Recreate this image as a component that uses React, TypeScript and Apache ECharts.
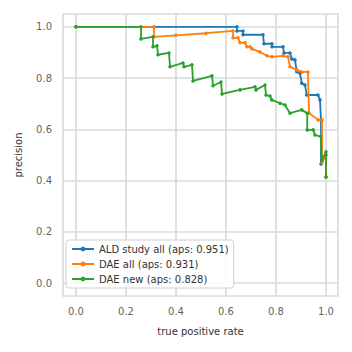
import React, { useEffect, useRef } from "react";
import * as echarts from "echarts";

const xTicks = [0, 0.2, 0.4, 0.6, 0.8, 1.0];
const yTicks = [0, 0.2, 0.4, 0.6, 0.8, 1.0];

const aldRecall = [0, 0.644, 0.644, 0.668, 0.668, 0.748, 0.752, 0.784, 0.784, 0.828, 0.832, 0.856, 0.863, 0.876, 0.883, 0.896, 0.903, 0.916, 0.923, 0.968, 0.976, 0.98, 0.98, 1.0, 1.0];
const aldPrecision = [1.0, 1.0, 0.984, 0.984, 0.969, 0.969, 0.934, 0.934, 0.922, 0.922, 0.898, 0.898, 0.875, 0.871, 0.825, 0.819, 0.78, 0.773, 0.734, 0.734, 0.715, 0.637, 0.465, 0.5, 0.414];

const daeAllRecall = [0, 0.312, 0.312, 0.4, 0.52, 0.628, 0.628, 0.648, 0.656, 0.676, 0.684, 0.696, 0.704, 0.736, 0.764, 0.784, 0.828, 0.848, 0.856, 0.884, 0.904, 0.928, 0.932, 0.968, 0.984, 0.984, 1.0, 1.0];
const daeAllPrecision = [1.0, 1.0, 0.961, 0.967, 0.975, 0.984, 0.957, 0.957, 0.938, 0.938, 0.922, 0.922, 0.914, 0.902, 0.887, 0.883, 0.887, 0.883, 0.844, 0.832, 0.824, 0.824, 0.664, 0.637, 0.637, 0.473, 0.5, 0.414];

const daeNewRecall = [0, 0.26, 0.26, 0.308, 0.308, 0.324, 0.328, 0.372, 0.376, 0.428, 0.432, 0.464, 0.468, 0.544, 0.548, 0.58, 0.584, 0.656, 0.716, 0.72, 0.756, 0.76, 0.776, 0.783, 0.816, 0.836, 0.856, 0.903, 0.925, 0.925, 0.949, 0.956, 0.979, 0.983, 1.0, 1.0];
const daeNewPrecision = [1.0, 1.0, 0.953, 0.961, 0.922, 0.926, 0.891, 0.898, 0.844, 0.859, 0.844, 0.852, 0.789, 0.809, 0.77, 0.785, 0.738, 0.754, 0.766, 0.754, 0.773, 0.734, 0.73, 0.715, 0.702, 0.695, 0.663, 0.676, 0.663, 0.598, 0.598, 0.578, 0.572, 0.48, 0.513, 0.414];

const seriesNames = ["ALD study all (aps: 0.951)", "DAE all (aps: 0.931)", "DAE new (aps: 0.828)"];
const seriesColors = ["#1f77b4", "#ff7f0e", "#2ca02c"];

const zip = (a: number[], b: number[]) => a.map((v, i) => [v, b[i]]);

export default function App() {
  const ref = useRef<HTMLDivElement>(null);
  useEffect(() => {
    if (!ref.current) return;
    const chart = echarts.init(ref.current, undefined, { renderer: "svg" });
    const font = "DejaVu Sans";
    const datasets = [
      zip(aldRecall, aldPrecision),
      zip(daeAllRecall, daeAllPrecision),
      zip(daeNewRecall, daeNewPrecision),
    ];
    const gridColor = "#dadada";
    const textColor = "#333333";
    chart.setOption({
      animation: false,
      textStyle: { fontFamily: font },
      grid: {
        left: 63,
        right: 14,
        top: 14,
        bottom: 56,
        show: true,
        borderColor: gridColor,
        borderWidth: 1.6,
        backgroundColor: "#ffffff",
      },
      xAxis: {
        type: "value",
        min: -0.052,
        max: 1.048,
        name: "true positive rate",
        nameLocation: "middle",
        nameGap: 30,
        nameTextStyle: { fontSize: 10, color: textColor, fontFamily: font },
        axisLine: { show: false },
        axisTick: { show: false },
        splitLine: { show: false },
        axisLabel: { show: false },
      },
      yAxis: {
        type: "value",
        min: -0.05,
        max: 1.05,
        name: "precision",
        nameLocation: "middle",
        nameGap: 40,
        nameTextStyle: { fontSize: 10, color: textColor, fontFamily: font },
        axisLine: { show: false },
        axisTick: { show: false },
        splitLine: { show: false },
        axisLabel: { show: false },
      },
      legend: {
        orient: "vertical",
        left: 66,
        top: 240,
        z: 10,
        data: seriesNames,
        itemWidth: 22,
        itemHeight: 6,
        itemGap: 5,
        padding: [4, 5, 4, 5],
        backgroundColor: "rgba(255,255,255,0.85)",
        borderColor: "#d0d0d0",
        borderWidth: 1,
        borderRadius: 3,
        textStyle: { fontSize: 10, color: textColor, fontFamily: font, lineHeight: 10 },
      },
      series: [
        {
          type: "line",
          name: "__grid",
          data: [],
          silent: true,
          z: 0,
          markLine: {
            z: 0,
            silent: true,
            symbol: "none",
            label: { show: false },
            emphasis: { disabled: true },
            lineStyle: { color: gridColor, width: 1.6, type: "solid", opacity: 1 },
            data: [
              ...xTicks.map((v) => ({ xAxis: v })),
              ...yTicks.map((v) => ({ yAxis: v })),
            ],
          },
        },
        {
          type: "scatter",
          name: "__xlabels",
          data: xTicks.map((v) => [v, -0.05]),
          symbolSize: 0,
          silent: true,
          label: {
            show: true,
            position: "bottom",
            distance: 10,
            formatter: (p: any) => p.value[0].toFixed(1),
            fontSize: 10,
            color: textColor,
            fontFamily: font,
          },
        },
        {
          type: "scatter",
          name: "__ylabels",
          data: yTicks.map((v) => [-0.052, v]),
          symbolSize: 0,
          silent: true,
          label: {
            show: true,
            position: "left",
            distance: 11,
            formatter: (p: any) => p.value[1].toFixed(1),
            fontSize: 10,
            color: textColor,
            fontFamily: font,
          },
        },
        ...datasets.map((d, i) => ({
          type: "line",
          name: seriesNames[i],
          data: d,
          color: seriesColors[i],
          z: 2 + i,
          showSymbol: true,
          symbol: "circle",
          symbolSize: 3.5,
          itemStyle: { color: seriesColors[i] },
          lineStyle: { color: seriesColors[i], width: 1.8 },
        })),
      ],
    });
    return () => chart.dispose();
  }, []);
  return <div ref={ref} style={{ width: 352, height: 352, position: "absolute", left: 0, top: 0 }} />;
}
